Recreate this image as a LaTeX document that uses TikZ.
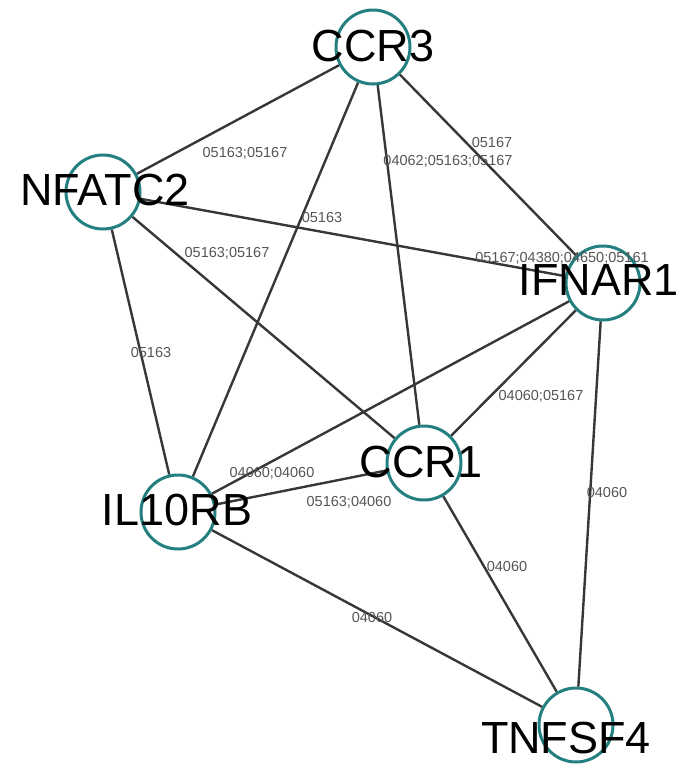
\documentclass[tikz,border=0pt]{standalone}
\usepackage{fontspec}
\setmainfont{Liberation Sans}
\usetikzlibrary{backgrounds}
\definecolor{nodeteal}{RGB}{36,128,128}
\definecolor{edgegray}{RGB}{55,55,55}
\definecolor{labgray}{RGB}{85,85,85}
\tikzset{
  gene/.style={circle, draw=nodeteal, line width=3pt, fill=white, minimum size=74pt, inner sep=0pt},
  genetext/.style={inner sep=0pt, text=black, font=\fontsize{45}{50}\selectfont},
  link/.style={draw=edgegray, line width=2.4pt},
  elabel/.style={inner sep=0pt, text=labgray, font=\fontsize{14.5}{16}\selectfont}
}
\begin{document}
\begin{tikzpicture}[x=1pt,y=-1pt]
\useasboundingbox (0,0) rectangle (679,764);
% circles
\node[gene] (ccr3) at (373,47) {};
\node[gene] (nfatc2) at (103,192) {};
\node[gene] (ifnar1) at (603,283) {};
\node[gene] (ccr1) at (424,463) {};
\node[gene] (il10rb) at (178,512) {};
\node[gene] (tnfsf4) at (576,725) {};
% edges
\begin{scope}[on background layer]
\draw[link] (ccr3) -- (nfatc2);
\draw[link] (ccr3) -- (il10rb);
\draw[link] (ccr3) -- (ccr1);
\draw[link] (ccr3) -- (ifnar1);
\draw[link] (nfatc2) -- (ifnar1);
\draw[link] (nfatc2) -- (ccr1);
\draw[link] (nfatc2) -- (il10rb);
\draw[link] (ifnar1) -- (il10rb);
\draw[link] (ifnar1) -- (ccr1);
\draw[link] (ifnar1) -- (tnfsf4);
\draw[link] (ccr1) -- (il10rb);
\draw[link] (ccr1) -- (tnfsf4);
\draw[link] (il10rb) -- (tnfsf4);
\end{scope}
% edge labels
\node[elabel] (la) at (245,153) {05163;05167};
\node[elabel] (lb) at (492,143) {05167};
\node[elabel] (lc) at (448,161) {04062;05163;05167};
\node[elabel] (ld) at (322,218) {05163};
\node[elabel] (le) at (227,253) {05163;05167};
\node[elabel] (lf) at (562,258) {05167;04380;04650;05161};
\node[elabel] (lg) at (151,353) {05163};
\node[elabel] (lh) at (272,473) {04060;04060};
\node[elabel] (li) at (349,502) {05163;04060};
\node[elabel] (lj) at (541,396) {04060;05167};
\node[elabel] (lk) at (607,493) {04060};
\node[elabel] (ll) at (507,567) {04060};
\node[elabel] (lm) at (372,617) {04060};
% gene names
\node[genetext] (ccr3t) at (373,46) {CCR3};
\node[genetext] (nfatc2t) at (105,190) {NFATC2};
\node[genetext] (ifnar1t) at (599,280) {IFNAR1};
\node[genetext] (ccr1t) at (421,462) {CCR1};
\node[genetext] (il10rbt) at (177,510) {IL10RB};
\node[genetext] (tnfsf4t) at (566,738) {TNFSF4};
\end{tikzpicture}
\end{document}
